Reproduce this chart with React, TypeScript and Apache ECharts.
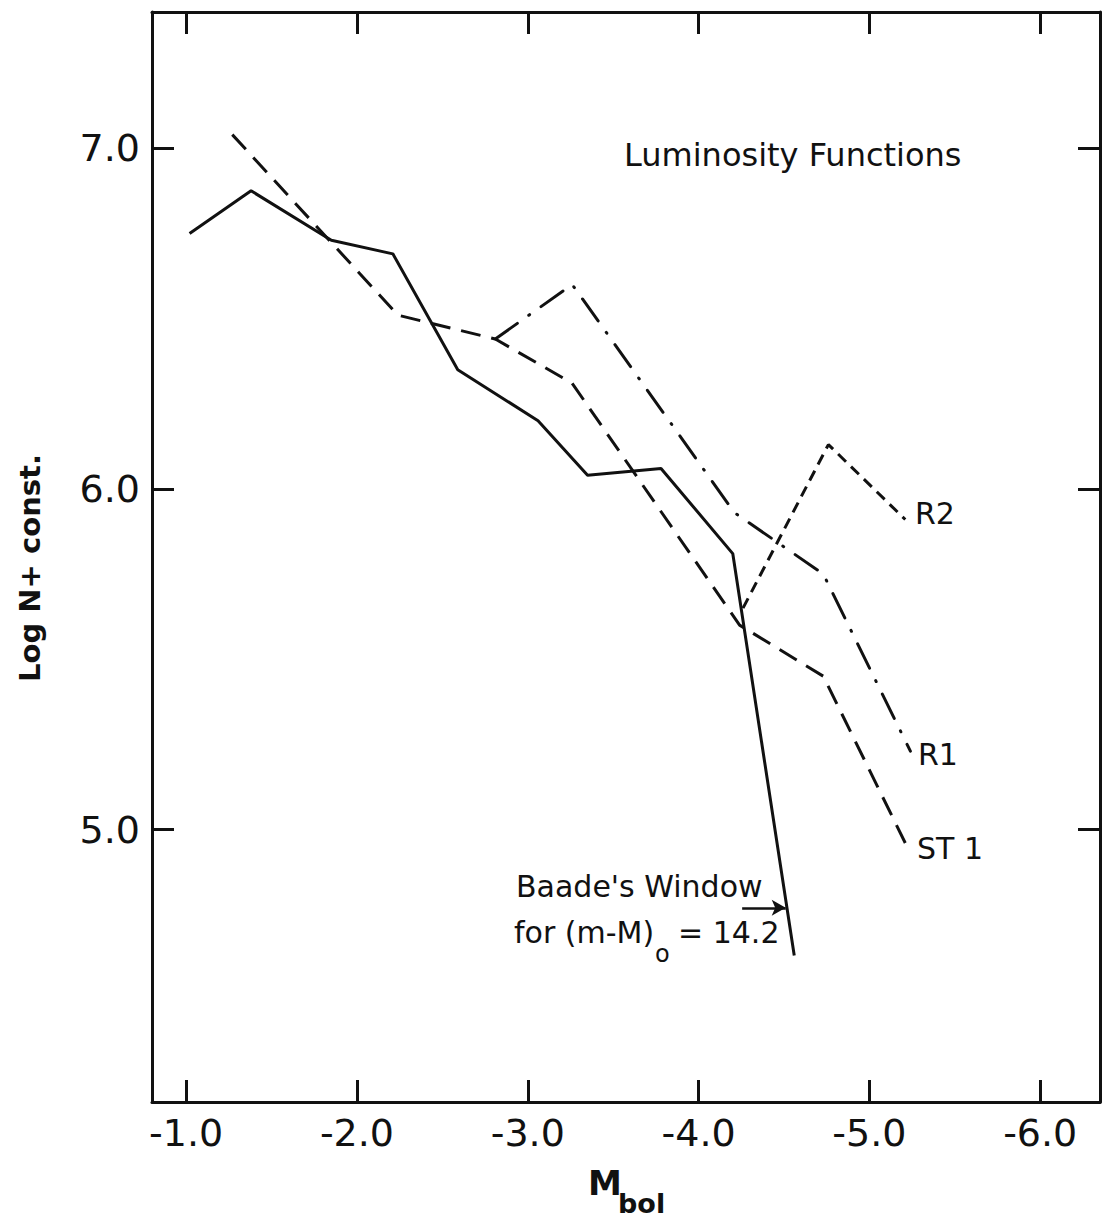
import React, { useEffect, useRef } from "react";
import * as echarts from "echarts";

// Baade's Window (solid)
const bwX = [-1.02, -1.38, -1.85, -2.21, -2.59, -3.06, -3.35, -3.78, -4.2, -4.56];
const bwY = [6.75, 6.875, 6.73, 6.69, 6.35, 6.2, 6.04, 6.06, 5.81, 4.63];
// ST 1 (long dashes)
const st1X = [-1.27, -2.24, -2.81, -3.26, -4.24, -4.73, -5.23];
const st1Y = [7.04, 6.51, 6.44, 6.31, 5.6, 5.45, 4.94];
// R1 (dash-dot)
const r1X = [-2.81, -3.26, -4.21, -4.73, -5.24];
const r1Y = [6.44, 6.6, 5.93, 5.75, 5.23];
// R2 (short dashes)
const r2X = [-4.26, -4.76, -5.21];
const r2Y = [5.65, 6.13, 5.91];

const xTicks = [-1, -2, -3, -4, -5, -6];
const yTicks = [5, 6, 7];

const INK = "#111";
const FONT = "DejaVu Sans";

const zip = (xs: number[], ys: number[]) => xs.map((x, i) => [x, ys[i]]);

export default function App() {
  const ref = useRef<HTMLDivElement>(null);
  useEffect(() => {
    if (!ref.current) return;
    const chart = echarts.init(ref.current, null, { renderer: "svg" });
    const tick = (show: boolean, vals: number[]) => ({
      show,
      inside: true,
      length: 22,
      customValues: vals,
      lineStyle: { color: INK, width: 3 },
    });
    const axisLine = { show: true, onZero: false, lineStyle: { color: INK, width: 3 } };
    const xBase = {
      type: "value",
      min: -6.35,
      max: -0.8,
      inverse: true,
      splitLine: { show: false },
      axisLine,
    };
    const yBase = {
      type: "value",
      min: 4.2,
      max: 7.4,
      splitLine: { show: false },
      axisLine,
    };
    const lineSeries = (name: string, data: number[][], type: any, cap = "butt") => ({
      name,
      type: "line",
      data,
      showSymbol: false,
      symbol: "none",
      lineStyle: { color: INK, width: 3, type, cap },
      silent: true,
    });
    chart.setOption({
      animation: false,
      backgroundColor: "#fff",
      grid: { left: 152, top: 12, right: 3, bottom: 119, containLabel: false },
      xAxis: [
        {
          ...xBase,
          position: "bottom",
          axisTick: tick(true, xTicks),
          axisLabel: {
            customValues: xTicks,
            formatter: (v: number) => v.toFixed(1),
            color: INK,
            fontFamily: FONT,
            fontSize: 38,
            margin: 12,
          },
        },
        {
          ...xBase,
          position: "top",
          axisTick: tick(true, xTicks),
          axisLabel: { show: false },
        },
      ],
      yAxis: [
        {
          ...yBase,
          position: "left",
          axisTick: tick(true, yTicks),
          axisLabel: {
            customValues: yTicks,
            formatter: (v: number) => v.toFixed(1),
            color: INK,
            fontFamily: FONT,
            fontSize: 38,
            margin: 12,
          },
        },
        {
          ...yBase,
          position: "right",
          axisTick: tick(true, yTicks),
          axisLabel: { show: false },
        },
      ],
      series: [
        {
          ...lineSeries("Baade's Window", zip(bwX, bwY), "solid"),
          markLine: {
            silent: true,
            symbol: ["none", "arrow"],
            symbolSize: [12, 14],
            label: { show: false },
            lineStyle: { color: INK, width: 2.5, type: "solid" },
            data: [[{ coord: [-4.255, 4.77] }, { coord: [-4.51, 4.77] }]],
          },
        },
        lineSeries("ST 1", zip(st1X, st1Y), [20, 11]),
        lineSeries("R1", zip(r1X, r1Y), [27, 14, 1, 14], "round"),
        lineSeries("R2", zip(r2X, r2Y), [11, 7]),
      ],
      graphic: [
        {
          type: "text",
          x: 30,
          y: 568,
          rotation: Math.PI / 2,
          style: {
            text: "Log N+ const.",
            fontFamily: FONT,
            fontSize: 29,
            fontWeight: "bold",
            fill: INK,
            align: "center",
            verticalAlign: "middle",
          },
        },
        {
          type: "text",
          x: 588,
          y: 1183,
          style: { text: "M", fontFamily: FONT, fontSize: 34, fontWeight: "bold", fill: INK, verticalAlign: "middle" },
        },
        {
          type: "text",
          x: 618,
          y: 1203,
          style: { text: "bol", fontFamily: FONT, fontSize: 27, fontWeight: "bold", fill: INK, verticalAlign: "middle" },
        },
        {
          type: "text",
          x: 624,
          y: 155,
          style: { text: "Luminosity Functions", fontFamily: FONT, fontSize: 32, fill: INK, verticalAlign: "middle" },
        },
        {
          type: "text",
          x: 915,
          y: 513,
          style: { text: "R2", fontFamily: FONT, fontSize: 30, fill: INK, verticalAlign: "middle" },
        },
        {
          type: "text",
          x: 918,
          y: 754,
          style: { text: "R1", fontFamily: FONT, fontSize: 30, fill: INK, verticalAlign: "middle" },
        },
        {
          type: "text",
          x: 917,
          y: 848,
          style: { text: "ST 1", fontFamily: FONT, fontSize: 30, fill: INK, verticalAlign: "middle" },
        },
        {
          type: "text",
          x: 516,
          y: 886,
          style: { text: "Baade's Window", fontFamily: FONT, fontSize: 30, fill: INK, verticalAlign: "middle" },
        },
        {
          type: "text",
          x: 514,
          y: 932,
          style: { text: "for (m-M)", fontFamily: FONT, fontSize: 30, fill: INK, verticalAlign: "middle" },
        },
        {
          type: "text",
          x: 655,
          y: 954,
          style: { text: "o", fontFamily: FONT, fontSize: 24, fill: INK, verticalAlign: "middle" },
        },
        {
          type: "text",
          x: 678,
          y: 932,
          style: { text: "= 14.2", fontFamily: FONT, fontSize: 30, fill: INK, verticalAlign: "middle" },
        },
      ],
    });
    return () => chart.dispose();
  }, []);
  return (
    <div
      ref={ref}
      style={{ position: "absolute", left: 0, top: 0, width: 1103, height: 1221, background: "#fff" }}
    />
  );
}
